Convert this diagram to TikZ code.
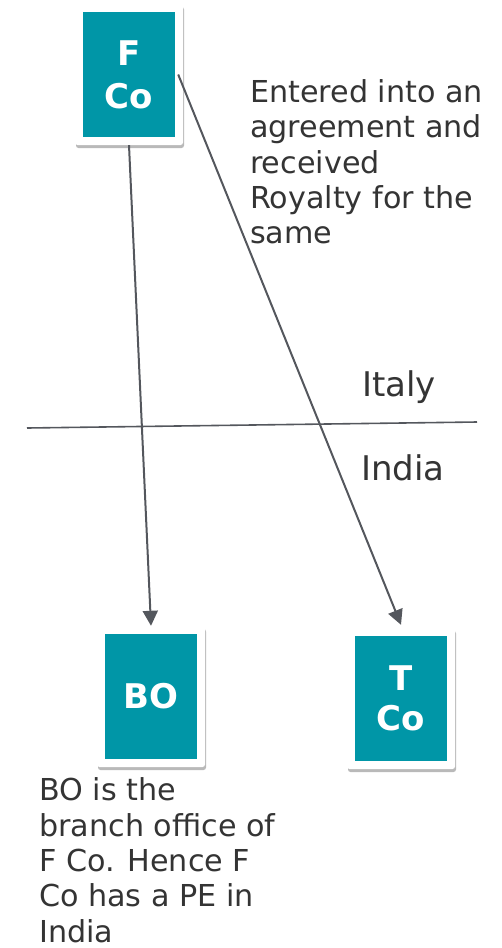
\documentclass[tikz,border=0pt]{standalone}
\usepackage{fontspec}
\setmainfont{DejaVu Sans}
\usetikzlibrary{arrows.meta,shadows}
\definecolor{boxteal}{RGB}{0,150,167}
\definecolor{inkgrey}{RGB}{52,52,52}
\definecolor{linegrey}{RGB}{84,87,93}
\begin{document}
\begin{tikzpicture}[x=1pt,y=-1pt,
  frame/.style={draw=none,fill=white,rounded corners=2.5pt,minimum width=108pt,minimum height=141pt,inner sep=0pt,
    drop shadow={shadow xshift=1pt,shadow yshift=-3pt,opacity=0.5,fill=black!55}},
  entity/.style={fill=boxteal,text=white,minimum width=92pt,minimum height=125pt,inner sep=0pt,align=center,
    font=\fontsize{34}{44}\selectfont\bfseries},
  link/.style={draw=linegrey,line width=2pt,-{Triangle[length=15pt,width=15pt]}},
  note/.style={text=inkgrey,inner sep=0pt,align=left,font=\fontsize{30.2}{35.3}\selectfont},
  country/.style={text=inkgrey,inner sep=0pt,font=\fontsize{34}{40}\selectfont}]
\useasboundingbox (0,0) rectangle (502,948);

% company boxes: white frame with shadow, teal panel inside
\node[frame] (fco) at (129,74.5) {};
\node[entity] (fcoin) at (129,74.5) {F\\[-1pt]Co};
\node[frame] (bo) at (151,696.5) {};
\node[entity] (boin) at (151,696.5) {BO};
\node[frame] (tco) at (401,698.5) {};
\node[entity] (tcoin) at (401,698.5) {T\\[-4pt]Co};

% border between the two countries
\coordinate (bl) at (27,428);
\coordinate (br) at (477,422);
\draw[linegrey,line width=1.6pt] (bl) -- (br);
\node[country,anchor=base west] (italy) at (362,396.7) {Italy};
\node[country,anchor=base west] (india) at (361,480.7) {India};

% relationships
\draw[link] (fco.south) -- (bo.north);
\draw[link] ([xshift=3pt]fcoin.east) -- ([yshift=3pt]tco.north);

% explanatory notes (anchored on the baseline of the last line)
\node[note,anchor=base west] (royalty) at (250,243.7)
  {Entered into an\\agreement and\\received\\Royalty for the\\same};
\node[note,anchor=base west] (pe) at (39,942)
  {BO is the\\branch office of\\F Co. Hence F\\Co has a PE in\\India};
\end{tikzpicture}
\end{document}
